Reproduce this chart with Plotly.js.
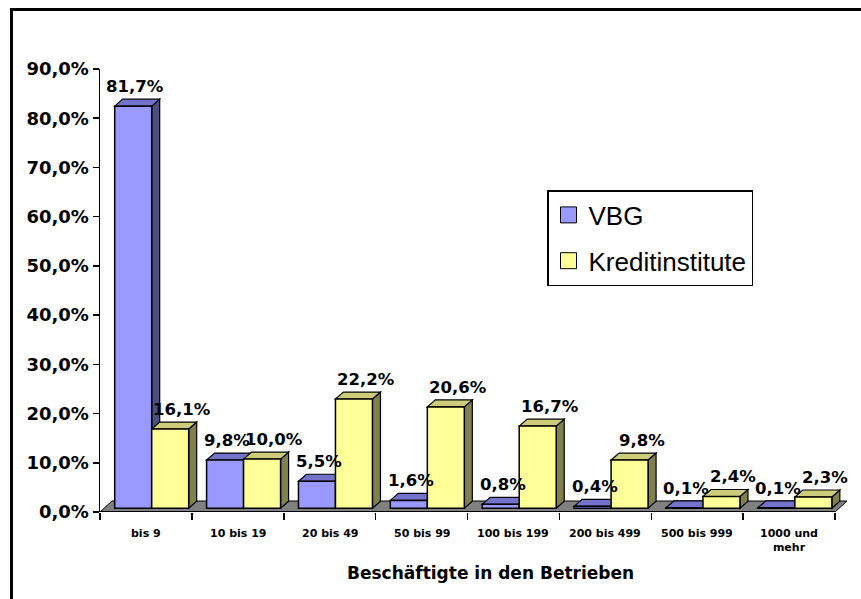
<!DOCTYPE html>
<html>
<head>
<meta charset="utf-8">
<script src="https://cdn.plot.ly/plotly-3.0.1.min.js"></script>
<style>
  html, body { margin: 0; padding: 0; background: #ffffff; }
  #wrap { position: relative; width: 861px; height: 599px; overflow: hidden; }
  #frame { position: absolute; left: 10px; top: 8px; width: 1000px; height: 1000px;
           border-left: 3px solid #000; border-top: 3px solid #000; box-sizing: border-box; }
  #chart { position: absolute; left: 0; top: 0; width: 861px; height: 599px; }
</style>
</head>
<body>
<div id="wrap">
  <div id="frame"></div>
  <div id="chart"></div>
</div>
<script>
// ---- data ----
const categories = ['bis 9', '10 bis 19', '20 bis 49', '50 bis 99', '100 bis 199', '200 bis 499', '500 bis 999', '1000 und<br>mehr'];
const seriesNames = ['VBG', 'Kreditinstitute'];
const vbgValues = [81.7, 9.8, 5.5, 1.6, 0.8, 0.4, 0.1, 0.1];
const kreditValues = [16.1, 10.0, 22.2, 20.6, 16.7, 9.8, 2.4, 2.3];
const yTickValues = [0, 10, 20, 30, 40, 50, 60, 70, 80, 90];
const xTitle = 'Beschäftigte in den Betrieben';

// ---- geometry / style ----
const W = 861, H = 599;
const M = { l: 100, r: 11, t: 69, b: 87 };
const X_MIN = -0.5, X_MAX = 7.663;
const Y_MIN = 0, Y_MAX = 90;
const pxX = (W - M.l - M.r) / (X_MAX - X_MIN);
const pxY = (H - M.t - M.b) / (Y_MAX - Y_MIN);
const DX = 8 / pxX, DY = 7 / pxY;            // bar depth
const BASE = 3.7 / pxY;                       // bar front base above axis
const FDX = 12 / pxX, FDY = 11 / pxY;         // floor depth
const BAR_W = 37 / pxX;
const OFF = [-0.5 + 14.7 / pxX, -0.5 + 14.7 / pxX + BAR_W];
const LABEL_XSHIFT = [2, 12];
const colors = {
  front: ['#9999FF', '#FFFF99'],
  top:   ['#7373CC', '#CCCC7A'],
  side:  ['#4D4D80', '#80804D']
};
const idx = categories.map((c, i) => i);
const fmt = v => v.toFixed(1).replace('.', ',') + '%';

const allSeries = [vbgValues, kreditValues];

const traces = [];
allSeries.forEach((vals, s) => {
  traces.push({
    type: 'bar', x: idx, y: vals, base: BASE, width: BAR_W, offset: OFF[s],
    marker: { color: colors.front[s], line: { color: '#000', width: 1.5 } },
    showlegend: false, hoverinfo: 'skip'
  });
});
// legend entries
allSeries.forEach((vals, s) => {
  traces.push({
    type: 'scatter', mode: 'markers', x: [null], y: [null], name: seriesNames[s],
    legendgroup: 'g' + s,
    marker: { symbol: 'square', size: 16, color: colors.front[s], line: { color: '#000', width: 1 } }
  });
});

const shapes = [];
// floor
shapes.push({
  type: 'path', layer: 'below', xref: 'x', yref: 'y',
  path: `M${X_MIN},0 L${X_MIN + 8},0 L${X_MIN + 8 + FDX},${FDY} L${X_MIN + FDX},${FDY} Z`,
  fillcolor: '#808080', line: { color: '#000', width: 1 }
});
// 3D faces
allSeries.forEach((vals, s) => {
  vals.forEach((v, i) => {
    const x0 = i + OFF[s], x1 = x0 + BAR_W;
    const b = BASE, t = BASE + v;
    shapes.push({
      type: 'path', layer: 'below', xref: 'x', yref: 'y',
      path: `M${x1},${b} L${x1 + DX},${b + DY} L${x1 + DX},${t + DY} L${x1},${t} Z`,
      fillcolor: colors.side[s], line: { color: '#000', width: 1.2 }
    });
    shapes.push({
      type: 'path', layer: 'below', xref: 'x', yref: 'y',
      path: `M${x0},${t} L${x0 + DX},${t + DY} L${x1 + DX},${t + DY} L${x1},${t} Z`,
      fillcolor: colors.top[s], line: { color: '#000', width: 1.2 }
    });
  });
});
// x axis line
shapes.push({
  type: 'line', layer: 'above', xref: 'x', yref: 'y',
  x0: X_MIN, x1: X_MIN + 8, y0: 0, y1: 0, line: { color: '#000', width: 2 }
});

const annotations = [];
allSeries.forEach((vals, s) => {
  vals.forEach((v, i) => {
    annotations.push({
      xref: 'x', yref: 'y', x: i + OFF[s] + BAR_W / 2, y: BASE + v + DY,
      text: fmt(v), showarrow: false, xanchor: 'center', yanchor: 'bottom',
      xshift: LABEL_XSHIFT[s], yshift: 1,
      font: { family: 'DejaVu Sans', size: 16.5, weight: 'bold', color: '#000' }
    });
  });
});
categories.forEach((c, i) => {
  annotations.push({
    xref: 'x', yref: 'paper', x: i, y: -12.5 / (H - M.t - M.b),
    text: c, showarrow: false, xanchor: 'center', yanchor: 'top',
    font: { family: 'DejaVu Sans', size: 11, weight: 'bold', color: '#000' }
  });
});
annotations.push({
  xref: 'paper', yref: 'paper', x: (490 - M.l) / (W - M.l - M.r), y: -61 / (H - M.t - M.b),
  text: xTitle, showarrow: false, xanchor: 'center', yanchor: 'middle',
  font: { family: 'DejaVu Sans', size: 17, weight: 'bold', color: '#000' }
});

const boundaries = [];
for (let i = 0; i <= categories.length; i++) boundaries.push(i - 0.5);

const layout = {
  width: W, height: H,
  margin: M,
  font: { family: 'DejaVu Sans', size: 18, color: '#000' },
  paper_bgcolor: 'rgba(0,0,0,0)', plot_bgcolor: 'rgba(0,0,0,0)',
  separators: ',.',
  barmode: 'overlay',
  showlegend: true,
  legend: {
    x: (547 - M.l) / (W - M.l - M.r), y: (512 - 190) / (H - M.t - M.b),
    xanchor: 'left', yanchor: 'top',
    bgcolor: '#ffffff', bordercolor: '#000', borderwidth: 1.5,
    font: { family: 'Liberation Sans', size: 26, color: '#000' },
    tracegroupgap: 9, itemsizing: 'trace', traceorder: 'grouped'
  },
  xaxis: {
    range: [X_MIN, X_MAX], showgrid: false, zeroline: false, showline: false,
    tickmode: 'array', tickvals: boundaries, ticktext: boundaries.map(() => ''),
    ticks: 'outside', ticklen: 7, tickwidth: 1.5, tickcolor: '#000', showticklabels: false,
    fixedrange: true
  },
  yaxis: {
    range: [Y_MIN, Y_MAX], showgrid: false, zeroline: false,
    showline: true, linecolor: '#000', linewidth: 1.5,
    tickmode: 'array', tickvals: yTickValues, ticktext: yTickValues.map(fmt),
    ticks: 'outside', ticklen: 6, tickwidth: 1.5, tickcolor: '#000',
    tickfont: { family: 'DejaVu Sans', size: 18, weight: 'bold', color: '#000' },
    automargin: false,
    fixedrange: true
  },
  shapes: shapes,
  annotations: annotations
};

Plotly.newPlot('chart', traces, layout, { displayModeBar: false, staticPlot: true });
</script>
</body>
</html>
